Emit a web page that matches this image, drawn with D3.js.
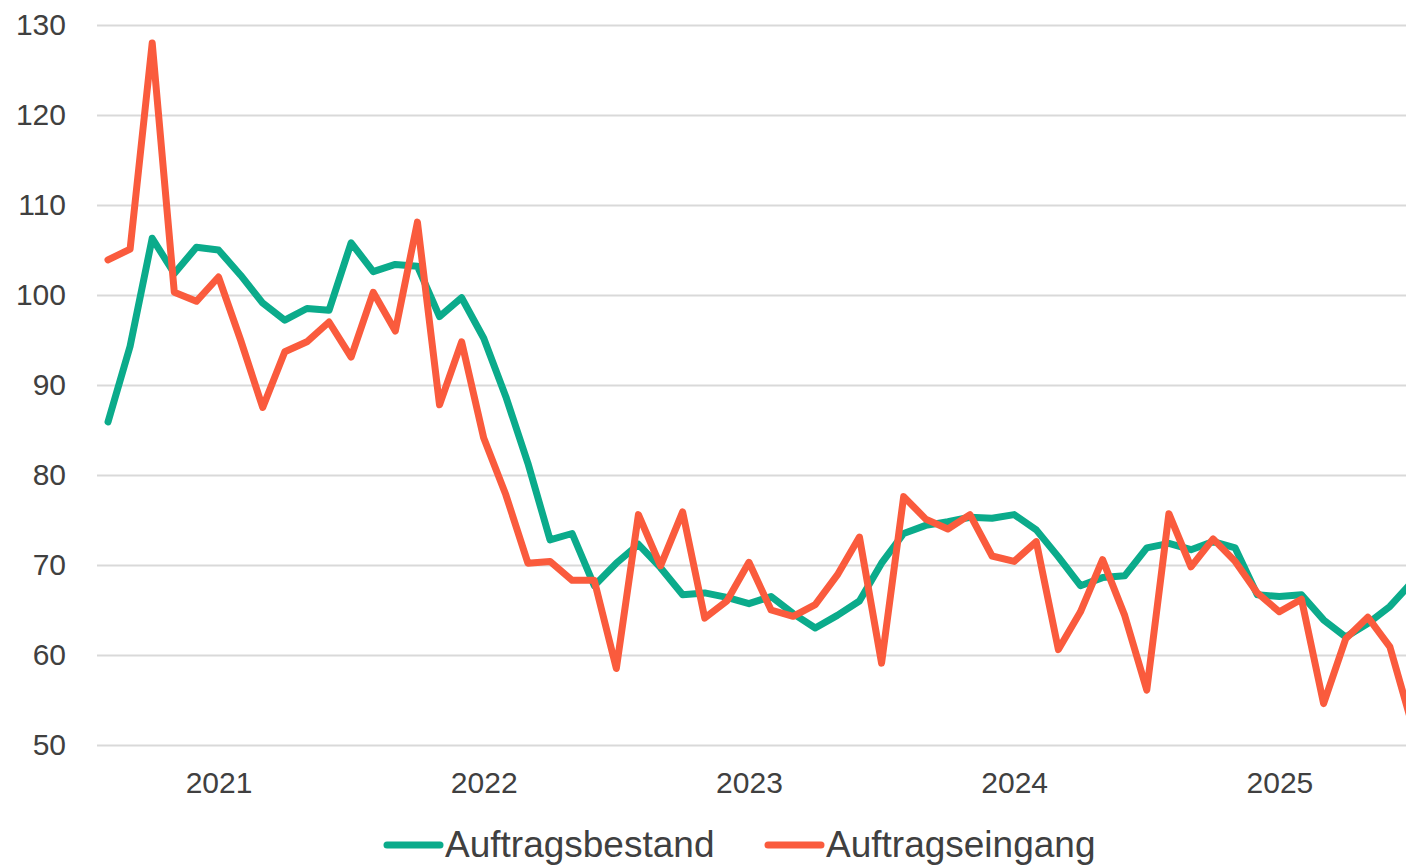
<!DOCTYPE html>
<html>
<head>
<meta charset="utf-8">
<script src="https://cdn.jsdelivr.net/npm/d3@7"></script>
<style>
  body { margin: 0; background: #fff; }
  svg { display: block; font-family: "Liberation Sans", Arial, sans-serif; }
  .axis text { fill: #404040; font-size: 30px; }
  .grid line { stroke: #d9d9d9; stroke-width: 2px; }
  .legend text { fill: #404040; font-size: 37px; }
</style>
</head>
<body>
<div id="chart"></div>
<script>
// months Aug 2020 .. Jul 2025
var months = [];
for (var yr = 2020; yr <= 2025; yr++) {
  for (var m = 1; m <= 12; m++) {
    if ((yr === 2020 && m < 8) || (yr === 2025 && m > 7)) continue;
    months.push(yr + "-" + (m < 10 ? "0" + m : m));
  }
}

var bestand = [
  85.9, 94.3, 106.3, 102.4, 105.3, 105.0, 102.2, 99.1, 97.2, 98.5,
  98.3, 105.8, 102.6, 103.4, 103.2, 97.6, 99.7, 95.2, 88.7, 81.3,
  72.8, 73.5, 67.7, 70.2, 72.3, 69.7, 66.7, 66.9, 66.4, 65.7,
  66.5, 64.6, 63.0, 64.4, 66.0, 70.2, 73.5, 74.4, 74.8, 75.3,
  75.2, 75.6, 73.9, 70.9, 67.7, 68.6, 68.8, 71.9, 72.4, 71.7,
  72.6, 71.9, 66.7, 66.5, 66.7, 63.9, 62.0, 63.5, 65.4, 68.1
];
var eingang = [
  103.9, 105.1, 128.0, 100.3, 99.3, 102.0, 95.0, 87.5, 93.7, 94.8,
  97.0, 93.1, 100.3, 96.0, 108.1, 87.8, 94.8, 84.1, 77.8, 70.2,
  70.4, 68.3, 68.3, 58.5, 75.6, 69.9, 75.9, 64.1, 66.0, 70.3,
  65.0, 64.3, 65.6, 68.9, 73.1, 59.1, 77.6, 75.1, 74.0, 75.6,
  71.0, 70.4, 72.6, 60.6, 64.8, 70.6, 64.4, 56.1, 75.7, 69.8,
  72.9, 70.4, 66.9, 64.8, 66.2, 54.6, 61.8, 64.2, 60.9, 52.3
];
var yTicks = [50, 60, 70, 80, 90, 100, 110, 120, 130];
var seriesNames = ["Auftragsbestand", "Auftragseingang"];
var colors = ["#0bab8b", "#fa5b3d"];

var svgWidth = 1406, svgHeight = 866;
var plotLeft = 97, plotRight = 1406;

var svg = d3.select("#chart").append("svg")
  .attr("width", svgWidth)
  .attr("height", svgHeight);

var x = d3.scalePoint()
  .domain(months)
  .range([108, 1412]);

var y = d3.scaleLinear()
  .domain([50, 130])
  .range([745, 25]);

// gridlines + y labels
svg.append("g")
  .attr("class", "axis grid")
  .attr("transform", `translate(${plotLeft},0)`)
  .call(d3.axisLeft(y).tickValues(yTicks).tickSize(-(plotRight - plotLeft)).tickPadding(31))
  .call(g => g.select(".domain").remove());

// x labels (years)
svg.append("g")
  .attr("class", "axis")
  .attr("transform", "translate(0,745)")
  .call(d3.axisBottom(x)
    .tickValues(months.filter(d => d.slice(5) === "01"))
    .tickFormat(d => d.slice(0, 4))
    .tickSize(0)
    .tickPadding(27))
  .call(g => g.select(".domain").remove());

var line = d3.line()
  .x((d, i) => x(months[i]))
  .y(d => y(d));

[bestand, eingang].forEach(function(vals, k) {
  svg.append("path")
    .datum(vals)
    .attr("fill", "none")
    .attr("stroke", colors[k])
    .attr("stroke-width", 7)
    .attr("stroke-linejoin", "round")
    .attr("stroke-linecap", "round")
    .attr("d", line);
});

// legend
var legendX = [384, 765];
var legend = svg.append("g").attr("class", "legend");
seriesNames.forEach(function(name, k) {
  legend.append("line")
    .attr("x1", legendX[k] + 3).attr("x2", legendX[k] + 56)
    .attr("y1", 845).attr("y2", 845)
    .attr("stroke", colors[k])
    .attr("stroke-width", 7)
    .attr("stroke-linecap", "round");
  legend.append("text")
    .attr("x", legendX[k] + 61)
    .attr("y", 857)
    .text(name);
});
</script>
</body>
</html>
